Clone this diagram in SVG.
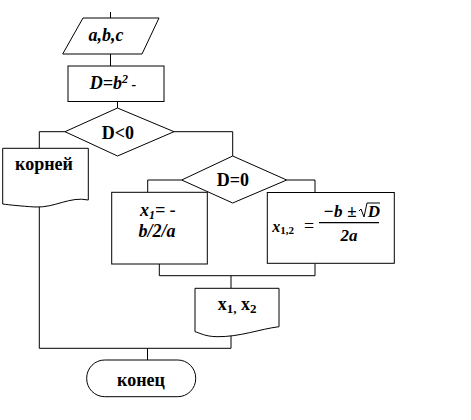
<svg xmlns="http://www.w3.org/2000/svg" width="471" height="420" viewBox="0 0 471 420">
<style>
.s{fill:#fff;stroke:#000;stroke-width:1}
.c{fill:none;stroke:#000;stroke-width:1}
.t{font-family:"Liberation Serif","Times New Roman",serif;font-weight:bold;font-size:18px;text-anchor:middle;fill:#000}
.i{font-style:italic}
</style>
<rect width="471" height="420" fill="#fff"/>
<g id="connectors">
<path class="c" d="M110.5 12V18M110.5 54V66M117.5 101.5V108"/>
<path class="c" d="M65 131.7H39.3V148.3M39.3 206V348.3H231V336"/>
<path class="c" d="M174 131.7H232.7V156"/>
<path class="c" d="M181.7 180H147.7V192.3M286.7 180H315V192.3"/>
<path class="c" d="M159.3 264V275.7H315V264M231 275.7V288.3"/>
<path style="fill:none;stroke:#777;stroke-width:1" d="M315 246.5V264"/>
<path class="c" d="M147.5 348.3V360"/>
</g>
<g id="input">
<polygon class="s" points="83,18 159,18 142,54 62.7,54"/>
<text class="t i" x="106" y="41">a,b,c</text>
</g>
<g id="calcD">
<rect class="s" x="68" y="66" width="96" height="35.5"/>
<text class="t i" x="113" y="89">D=b<tspan font-size="12" dy="-6">2</tspan><tspan dy="6" font-size="14"> -</tspan></text>
</g>
<g id="cond1">
<polygon class="s" points="117.5,108 174,131.7 117.5,156 65,131.7"/>
<text class="t" x="118" y="139">D&lt;0</text>
</g>
<g id="noroots">
<path class="s" d="M2.7 148.3H88.3V200C70 196 55 208 35 207C20 206 10 205 2.7 204Z"/>
<text class="t" x="44" y="170">корней</text>
</g>
<g id="cond2">
<polygon class="s" points="232.7,156 286.7,180 232.7,203 181.7,180"/>
<text class="t" x="233" y="186">D=0</text>
</g>
<g id="oneroot">
<rect class="s" x="111.7" y="192.3" width="95.6" height="71.7"/>
<text class="t i" x="158" y="216">x<tspan font-size="12" dy="3">1</tspan><tspan dy="-3">= -</tspan></text>
<text class="t i" x="157" y="237">b/2/a</text>
</g>
<g id="tworoots">
<rect class="s" x="267.3" y="192.5" width="127" height="70.8"/>
<text class="t i" x="283" y="232" style="font-size:16px">x<tspan font-size="11" dy="2" font-style="normal">1,2</tspan></text>
<text class="t" x="309" y="232" style="font-size:18px;font-weight:normal">=</text>
<line x1="319" y1="222.7" x2="379" y2="222.7" stroke="#000" stroke-width="1.2"/>
<text class="t i" x="333" y="217" style="font-size:17px">−b</text>
<text class="t" x="352" y="217" style="font-size:17px">±</text>
<path class="c" d="M359 211L361 209L364 217L367 203H380"/>
<text class="t i" x="374" y="217" style="font-size:17px">D</text>
<text class="t i" x="349" y="241" style="font-size:17px">2a</text>
</g>
<g id="output">
<path class="s" d="M195 288.3H279V326.7C260 329 240 337 217 336.7C205 336.5 200 333 195 331.7Z"/>
<text class="t" x="237" y="310">x<tspan font-size="13" dy="3">1,</tspan><tspan dy="-3"> x</tspan><tspan font-size="13" dy="3">2</tspan></text>
</g>
<g id="end">
<rect class="s" x="86.7" y="360" width="109" height="36.7" rx="18" ry="18"/>
<text class="t" x="141" y="386">конец</text>
</g>
</svg>
